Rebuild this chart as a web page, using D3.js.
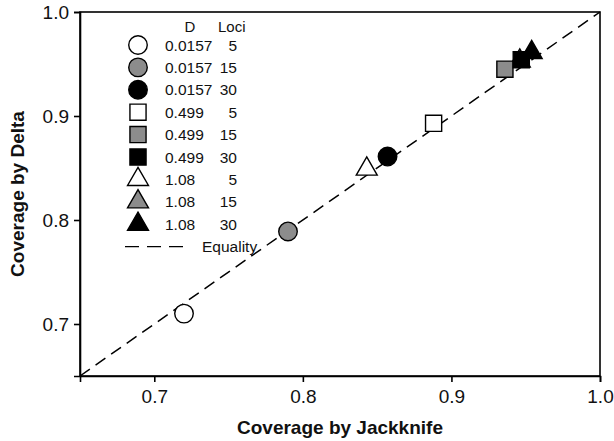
<!DOCTYPE html>
<html>
<head>
<meta charset="utf-8">
<script src="https://cdn.jsdelivr.net/npm/d3@7"></script>
<style>
  body { margin: 0; background: #fff; }
  text { font-family: "Liberation Sans", Arial, sans-serif; fill: #111; }
</style>
</head>
<body>
<div id="chart"></div>
<script>
// --- Data ---
const dValues = ["0.0157", "0.0157", "0.0157", "0.499", "0.499", "0.499", "1.08", "1.08", "1.08"];
const lociValues = [5, 15, 30, 5, 15, 30, 5, 15, 30];
const jackknife = [0.720, 0.790, 0.857, 0.888, 0.936, 0.947, 0.843, 0.946, 0.954];
const delta     = [0.710, 0.789, 0.861, 0.893, 0.945, 0.954, 0.849, 0.953, 0.961];
const shapes = ["circle", "circle", "circle", "square", "square", "square", "triangle", "triangle", "triangle"];
const fills  = ["white", "gray", "black", "white", "gray", "black", "white", "gray", "black"];
const xTicks = [0.7, 0.8, 0.9, 1.0];
const yTicks = [0.7, 0.8, 0.9, 1.0];

const width = 614, height = 441;
const margin = {top: 12, right: 14, bottom: 65, left: 80};

const svg = d3.select("#chart").append("svg")
    .attr("width", width)
    .attr("height", height);

const x = d3.scaleLinear().domain([0.65, 1.0]).range([margin.left, width - margin.right]);
const y = d3.scaleLinear().domain([0.65, 1.0]).range([height - margin.bottom, margin.top]);

const symbolType = {circle: d3.symbolCircle, square: d3.symbolSquare, triangle: d3.symbolTriangle};
const symbolSize = {circle: 270, square: 260, triangle: 190};
const fillColor = {white: "#fff", gray: "#8c8c8c", black: "#000"};

// --- Frame ---
svg.append("rect")
    .attr("x", x(0.65)).attr("y", y(1.0))
    .attr("width", x(1.0) - x(0.65)).attr("height", y(0.65) - y(1.0))
    .attr("fill", "none").attr("stroke", "#000").attr("stroke-width", 1.6);

// --- Axes ---
const xAxis = svg.append("g")
    .attr("transform", `translate(0,${y(0.65)})`)
    .call(d3.axisBottom(x).tickValues(xTicks).tickFormat(d3.format(".1f")).tickSize(6).tickPadding(8));
const yAxis = svg.append("g")
    .attr("transform", `translate(${x(0.65)},0)`)
    .call(d3.axisLeft(y).tickValues(yTicks).tickFormat(d3.format(".1f")).tickSize(6).tickPadding(5));

[xAxis, yAxis].forEach(a => {
    a.select(".domain").attr("stroke", "#000").attr("stroke-width", 1.6);
    a.selectAll(".tick line").attr("stroke", "#000").attr("stroke-width", 1.6);
    a.selectAll(".tick text").style("font-size", "19px").attr("fill", "#111")
        .style("font-family", "'Liberation Sans', Arial, sans-serif");
});

// --- Axis titles ---
svg.append("text")
    .attr("x", (x(0.65) + x(1.0)) / 2).attr("y", 434)
    .attr("text-anchor", "middle")
    .style("font-size", "19px").style("font-weight", "bold")
    .text("Coverage by Jackknife");

svg.append("text")
    .attr("transform", `translate(24,${(y(0.65) + y(1.0)) / 2}) rotate(-90)`)
    .attr("text-anchor", "middle")
    .style("font-size", "19px").style("font-weight", "bold")
    .text("Coverage by Delta");

// --- Equality line ---
svg.append("line")
    .attr("x1", x(0.65)).attr("y1", y(0.65))
    .attr("x2", x(1.0)).attr("y2", y(1.0))
    .attr("stroke", "#000").attr("stroke-width", 1.5)
    .attr("stroke-dasharray", "12,7");

// --- Points ---
const points = d3.range(dValues.length).map(i => ({
    i, d: dValues[i], loci: lociValues[i], jx: jackknife[i], dy: delta[i], shape: shapes[i], fill: fills[i]
}));
// gray triangle sits underneath the black square
const drawOrder = [7, 0, 1, 2, 6, 3, 4, 5, 8];

svg.append("g").selectAll("path")
    .data(drawOrder.map(k => points[k]))
    .join("path")
    .attr("transform", p => `translate(${x(p.jx)},${y(p.dy)})`)
    .attr("d", p => d3.symbol().type(symbolType[p.shape]).size(symbolSize[p.shape])())
    .attr("fill", p => fillColor[p.fill])
    .attr("stroke", "#000").attr("stroke-width", 1.4);

// --- Legend ---
const legend = svg.append("g");
const rowY = d3.scaleLinear().domain([0, 1]).range([45, 67.4]);

legend.append("text").attr("x", 190).attr("y", 27 + 5).attr("text-anchor", "middle")
    .style("font-size", "15px").text("D");
legend.append("text").attr("x", 218).attr("y", 27 + 5)
    .style("font-size", "15px").text("Loci");

const rows = legend.selectAll("g.row").data(points).join("g")
    .attr("class", "row")
    .attr("transform", p => `translate(0,${rowY(p.i)})`);

rows.append("path")
    .attr("transform", "translate(138,0)")
    .attr("d", p => d3.symbol().type(symbolType[p.shape]).size(symbolSize[p.shape])())
    .attr("fill", p => fillColor[p.fill])
    .attr("stroke", "#000").attr("stroke-width", 1.4);

rows.append("text").attr("x", 165).attr("y", 5.5)
    .style("font-size", "15.5px").text(p => p.d);
rows.append("text").attr("x", 237).attr("y", 5.5).attr("text-anchor", "end")
    .style("font-size", "15.5px").text(p => p.loci);

const eqY = rowY(9);
legend.append("line")
    .attr("x1", 125).attr("x2", 183).attr("y1", eqY).attr("y2", eqY)
    .attr("stroke", "#000").attr("stroke-width", 1.4).attr("stroke-dasharray", "14,8");
legend.append("text").attr("x", 202).attr("y", eqY + 5.5)
    .style("font-size", "15.5px").text("Equality");
</script>
</body>
</html>
